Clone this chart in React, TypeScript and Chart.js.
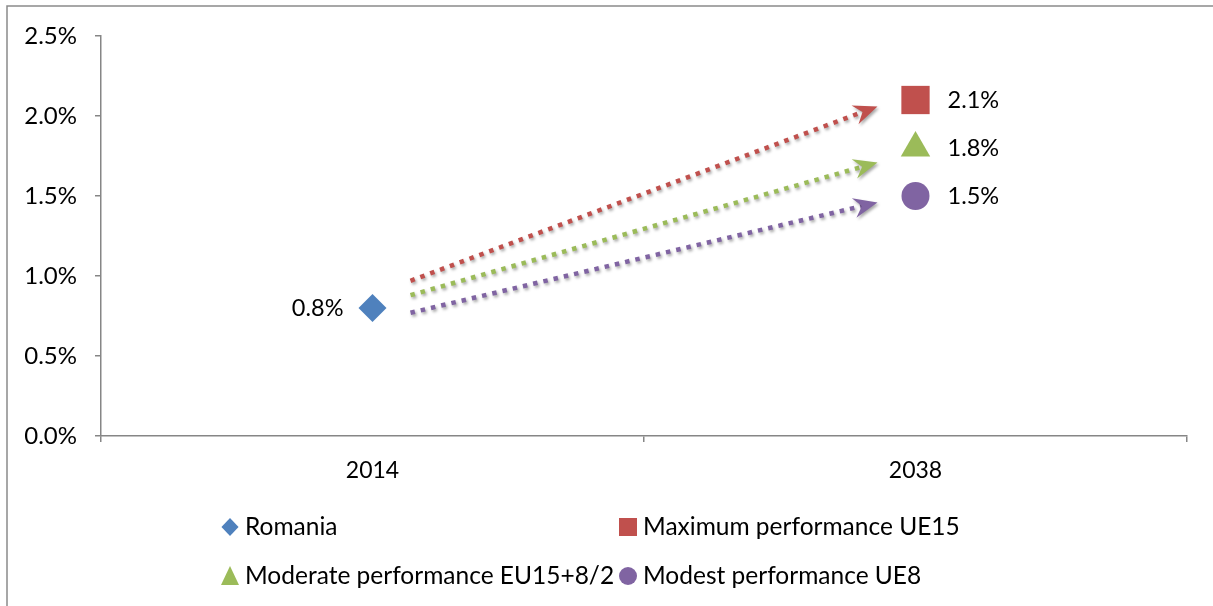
import React, { useEffect, useRef } from 'react';
import { Chart, registerables } from 'chart.js';

Chart.register(...registerables);

const categories = ['2014', '2038'];
const seriesNames = [
  'Romania',
  'Maximum performance UE15',
  'Moderate performance EU15+8/2',
  'Modest performance UE8',
];
const romania = [0.8, null];
const maximumUE15 = [null, 2.1];
const moderateEU = [null, 1.8];
const modestUE8 = [null, 1.5];
const seriesColors = ['#4F81BD', '#C0504D', '#9BBB59', '#8064A2'];
const pointStyles = ['rectRot', 'rect', 'triangle', 'circle'];
const pointRadii = [14, 20, 17, 14];
const yMin = 0;
const yMax = 2.5;
const yStep = 0.5;

// dotted trend arrows (category position, value in %)
const arrowStartPos = 0.07;
const arrowEndPos = 0.93;
const arrowStartValues = [0.97, 0.88, 0.77];
const arrowEndValues = [2.06, 1.71, 1.46];
const arrowColors = ['#C0504D', '#9BBB59', '#8064A2'];

const FONT = "Lato, 'Liberation Sans', sans-serif";
const AXIS_COLOR = '#868686';

const pct = (v: number) => v.toFixed(1) + '%';

const borderPlugin = {
  id: 'frameBorder',
  beforeDraw(chart: any) {
    const ctx = chart.ctx;
    ctx.save();
    ctx.fillStyle = '#ffffff';
    ctx.fillRect(0, 0, chart.width, chart.height);
    ctx.strokeStyle = '#8a8a8a';
    ctx.lineWidth = 1.5;
    ctx.beginPath();
    ctx.moveTo(7, chart.height);
    ctx.lineTo(7, 6);
    ctx.lineTo(chart.width, 6);
    ctx.stroke();
    ctx.restore();
  },
};

const arrowPlugin = {
  id: 'trendArrows',
  beforeDatasetsDraw(chart: any) {
    const ctx = chart.ctx;
    const xs = chart.scales.x;
    const ys = chart.scales.y;
    arrowStartValues.forEach((sv, i) => {
      const x0 = xs.getPixelForValue(arrowStartPos);
      const y0 = ys.getPixelForValue(sv);
      const x1 = xs.getPixelForValue(arrowEndPos);
      const y1 = ys.getPixelForValue(arrowEndValues[i]);
      const dx = x1 - x0;
      const dy = y1 - y0;
      const len = Math.hypot(dx, dy);
      const ux = dx / len;
      const uy = dy / len;
      const nx = -uy;
      const ny = ux;
      const L = 24;
      const W = 10;
      const notch = 8;
      ctx.save();
      ctx.shadowColor = 'rgba(0,0,0,0.35)';
      ctx.shadowBlur = 3;
      ctx.shadowOffsetX = 1.5;
      ctx.shadowOffsetY = 2;
      ctx.strokeStyle = arrowColors[i];
      ctx.lineWidth = 4.5;
      ctx.lineCap = 'butt';
      ctx.setLineDash([4.5, 6]);
      ctx.beginPath();
      ctx.moveTo(x0, y0);
      ctx.lineTo(x1 - (L - notch) * ux, y1 - (L - notch) * uy);
      ctx.stroke();
      ctx.setLineDash([]);
      ctx.fillStyle = arrowColors[i];
      ctx.beginPath();
      ctx.moveTo(x1, y1);
      ctx.lineTo(x1 - L * ux + W * nx, y1 - L * uy + W * ny);
      ctx.lineTo(x1 - (L - notch) * ux, y1 - (L - notch) * uy);
      ctx.lineTo(x1 - L * ux - W * nx, y1 - L * uy - W * ny);
      ctx.closePath();
      ctx.fill();
      ctx.restore();
    });
  },
};

const labelPlugin = {
  id: 'valueLabels',
  afterDatasetsDraw(chart: any) {
    const ctx = chart.ctx;
    ctx.save();
    ctx.font = `23.5px ${FONT}`;
    ctx.fillStyle = '#000';
    ctx.textBaseline = 'middle';
    chart.data.datasets.forEach((ds: any, di: number) => {
      const meta = chart.getDatasetMeta(di);
      ds.data.forEach((v: any, j: number) => {
        if (v === null || v === undefined) return;
        const el = meta.data[j];
        if (di === 0) {
          ctx.textAlign = 'right';
          ctx.fillText(pct(v), el.x - 29, el.y);
        } else {
          ctx.textAlign = 'left';
          ctx.fillText(pct(v), el.x + 32, el.y);
        }
      });
    });
    ctx.restore();
  },
};

const legendPlugin = {
  id: 'gridLegend',
  afterDraw(chart: any) {
    const ctx = chart.ctx;
    const colX = [230, 628];
    const rowY = [527, 576];
    ctx.save();
    ctx.font = `24.5px ${FONT}`;
    ctx.textBaseline = 'middle';
    ctx.textAlign = 'left';
    chart.data.datasets.forEach((ds: any, i: number) => {
      const cx = colX[i % 2];
      const cy = rowY[Math.floor(i / 2)];
      ctx.fillStyle = ds.backgroundColor;
      ctx.beginPath();
      const s = 9;
      if (ds.pointStyle === 'rectRot') {
        ctx.moveTo(cx, cy - s);
        ctx.lineTo(cx + s * 0.95, cy);
        ctx.lineTo(cx, cy + s);
        ctx.lineTo(cx - s * 0.95, cy);
        ctx.closePath();
      } else if (ds.pointStyle === 'rect') {
        ctx.rect(cx - s, cy - s, 2 * s, 2 * s);
      } else if (ds.pointStyle === 'triangle') {
        ctx.moveTo(cx, cy - s - 1);
        ctx.lineTo(cx + s, cy + s);
        ctx.lineTo(cx - s, cy + s);
        ctx.closePath();
      } else {
        ctx.arc(cx, cy, s, 0, Math.PI * 2);
      }
      ctx.fill();
      ctx.fillStyle = '#000';
      ctx.fillText(ds.label, cx + 15, cy);
    });
    ctx.restore();
  },
};

export default function App() {
  const canvasRef = useRef<HTMLCanvasElement>(null);

  useEffect(() => {
    if (!canvasRef.current) return;
    const seriesData = [romania, maximumUE15, moderateEU, modestUE8];
    const chart = new Chart(canvasRef.current, {
      type: 'line',
      data: {
        labels: categories,
        datasets: seriesData.map((d, i) => ({
          label: seriesNames[i],
          data: d,
          showLine: false,
          backgroundColor: seriesColors[i],
          borderColor: seriesColors[i],
          borderWidth: 0,
          pointStyle: pointStyles[i],
          pointRadius: pointRadii[i],
          pointHoverRadius: pointRadii[i],
        })),
      } as any,
      plugins: [borderPlugin, arrowPlugin, labelPlugin, legendPlugin],
      options: {
        responsive: false,
        animation: false,
        events: [],
        layout: { padding: { left: 0, top: 36, right: 26, bottom: 0 } },
        plugins: {
          legend: { display: false },
          tooltip: { enabled: false },
          title: { display: false },
        },
        scales: {
          x: {
            type: 'category',
            offset: true,
            grid: {
              display: true,
              drawOnChartArea: false,
              drawTicks: true,
              tickLength: 6,
              offset: true,
              color: AXIS_COLOR,
              lineWidth: 1.5,
            },
            border: { display: true, color: AXIS_COLOR, width: 1.5 },
            ticks: {
              color: '#000',
              font: { family: FONT, size: 23 },
              padding: 15,
              maxRotation: 0,
            },
            afterFit: (s: any) => {
              s.height = 170;
            },
          },
          y: {
            min: yMin,
            max: yMax,
            grid: {
              display: true,
              drawOnChartArea: false,
              drawTicks: true,
              tickLength: 6,
              color: AXIS_COLOR,
              lineWidth: 1.5,
            },
            border: { display: true, color: AXIS_COLOR, width: 1.5 },
            ticks: {
              stepSize: yStep,
              color: '#000',
              font: { family: FONT, size: 24 },
              padding: 18,
              callback: (v: any) => pct(Number(v)),
            },
            afterFit: (s: any) => {
              s.width = 101;
            },
          },
        },
      } as any,
    });
    return () => chart.destroy();
  }, []);

  return (
    <div style={{ position: 'absolute', left: 0, top: 0, width: 1213, height: 606, background: '#fff' }}>
      <canvas ref={canvasRef} width={1213} height={606} style={{ display: 'block' }} />
    </div>
  );
}
